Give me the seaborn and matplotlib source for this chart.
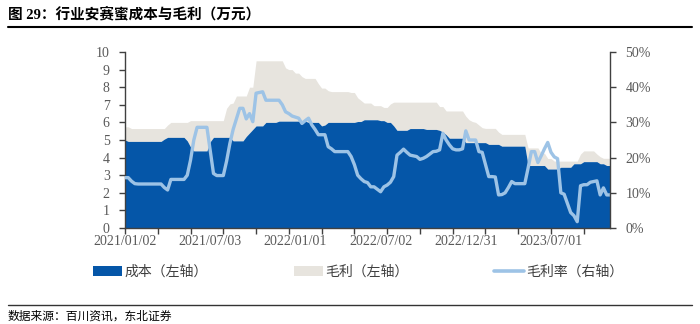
import numpy as np
import pandas as pd
import matplotlib
matplotlib.use("Agg")
import matplotlib.pyplot as plt
import seaborn as sns
from matplotlib.patches import Patch
from matplotlib.lines import Line2D

# ---- data (weekly, 2021/01/02 onward) ----
cost = [
    5.0, 4.92, 4.92, 4.92, 4.92, 4.92, 4.92, 4.92, 4.92, 4.92, 4.92, 4.92,
    5.05, 5.15, 5.15, 5.15, 5.15, 5.15, 5.15,
    4.95, 4.6, 4.38, 4.38, 4.38, 4.38, 4.38,
    4.9, 5.15, 5.15, 5.15, 5.15, 5.15, 5.15,
    4.95, 4.95, 4.95, 4.95, 5.2, 5.4, 5.6,
    5.8, 5.8, 5.8, 6.0, 6.0, 6.0, 6.0,
    6.07, 6.07, 6.07, 6.07, 6.07, 6.07, 6.07, 6.07, 6.07,
    6.0, 6.0, 6.0, 6.0, 5.8, 5.85,
    6.0, 6.0, 6.0, 6.0, 6.0, 6.0, 6.0, 6.0, 6.0,
    6.05, 6.05, 6.15, 6.15, 6.15, 6.15, 6.15, 6.1, 6.1, 6.0, 6.0, 5.8,
    5.55, 5.55, 5.55, 5.55, 5.65, 5.65, 5.65, 5.65, 5.65,
    5.6, 5.6, 5.6, 5.6, 5.55, 5.45, 5.3,
    5.1, 5.1, 5.1, 5.1, 5.1,
    4.85, 4.85, 4.85, 4.85, 4.85, 4.85, 4.85,
    4.75, 4.75, 4.75, 4.75,
    4.65, 4.65, 4.65, 4.65, 4.65, 4.65, 4.65, 4.65,
    3.55, 3.55, 3.55, 3.55, 3.55, 3.55,
    3.35, 3.35, 3.35, 3.35,
    3.45, 3.45, 3.45, 3.45,
    3.65, 3.65, 3.65,
    3.77, 3.77, 3.77, 3.77, 3.77,
    3.65, 3.65, 3.55, 3.55,
]

gross = [
    0.75, 0.83, 0.73, 0.73, 0.73, 0.73, 0.73, 0.73, 0.73, 0.73, 0.73, 0.73,
    0.6, 0.7, 0.85, 0.85, 0.85, 0.85, 0.85,
    1.05, 1.5, 1.72, 1.72, 1.72, 1.72, 1.72,
    1.2, 0.95, 0.95, 0.95, 0.95, 1.65, 1.9,
    2.15, 2.55, 2.55, 2.55, 2.3, 2.6, 2.4,
    3.7, 3.7, 3.7, 3.5, 3.5, 3.5, 3.5,
    3.43, 3.43, 3.03, 2.93, 2.93, 2.73, 2.73, 2.53, 2.43,
    2.5, 2.5, 2.5, 2.2, 2.15, 2.1,
    1.8, 1.75, 1.75, 1.75, 1.75, 1.75, 1.75, 1.7, 1.7,
    1.35, 1.2, 0.95, 0.95, 0.95, 0.8, 0.8, 0.85, 0.75, 0.85, 1.05, 1.35,
    1.6, 1.6, 1.6, 1.6, 1.5, 1.5, 1.5, 1.5, 1.5,
    1.55, 1.55, 1.55, 1.55, 1.35, 1.45, 1.35,
    1.55, 1.55, 1.55, 1.55, 1.55,
    1.5, 1.3, 1.2, 1.15, 1.0, 0.85, 0.81,
    0.91, 0.91, 0.91, 0.7,
    0.67, 0.67, 0.67, 0.67, 0.67, 0.67, 0.67, 0.67,
    1.0, 1.0, 1.0, 1.0, 0.7, 0.7,
    0.6, 0.6, 0.45, 0.45,
    0.35, 0.35, 0.35, 0.35,
    0.15, 0.15, 0.55,
    0.61, 0.61, 0.61, 0.61, 0.43,
    0.4, 0.31, 0.41, 0.41,
]

rate = [
    14.3, 14.3, 13.3, 12.6, 12.5, 12.5, 12.5, 12.5, 12.5, 12.5, 12.5, 12.5,
    11.5, 10.8, 13.8, 13.8, 13.8, 13.8, 13.8,
    15.0, 19.3, 25.0, 28.6, 28.6, 28.6, 28.6,
    22.0, 15.5, 14.9, 14.9, 14.9, 19.0, 24.0,
    28.0, 31.0, 34.0, 34.0, 31.0, 32.5, 30.2,
    38.3, 38.5, 38.7, 36.3, 36.3, 36.3, 36.3,
    36.3, 35.0, 33.0, 32.5, 31.8, 31.5, 31.2, 29.7, 30.5,
    31.2, 29.3, 28.0, 26.5, 26.5, 26.5,
    23.1, 22.5, 21.7, 21.7, 21.7, 21.7, 21.7, 20.3, 18.0,
    15.0, 14.0, 13.2, 12.9, 11.7, 11.7, 11.0, 10.3, 11.7, 12.2, 13.0, 14.6,
    20.7, 21.5, 22.4, 21.5, 20.7, 20.5, 20.3, 19.5, 19.8,
    20.3, 21.0, 21.7, 21.8, 22.2, 26.9, 25.0,
    23.6, 22.5, 22.2, 22.2, 22.5,
    27.6, 25.0, 25.0, 25.0, 21.7, 21.5, 18.0,
    14.6, 14.6, 14.5, 9.4,
    9.5, 10.0, 11.5, 13.2, 12.6, 12.6, 12.6, 12.6,
    17.0, 21.7, 21.7, 18.6, 20.5, 22.5,
    24.3, 21.5, 20.2, 19.7,
    10.0, 9.6, 7.0, 4.4,
    3.5, 1.8, 12.0,
    12.3, 12.3, 13.0, 13.2, 13.4,
    9.4, 11.4, 9.4, 9.4,
]

label_pos = [0, 26, 52, 78, 104, 130]
label_txt = ["2021/01/02", "2021/07/03", "2022/01/01", "2022/07/02", "2022/12/31", "2023/07/01"]
tick_pos = [0, 10, 20, 30, 40, 50, 60, 70, 80, 90, 100, 110, 120, 130, 140]
left_ticks = [0, 1, 2, 3, 4, 5, 6, 7, 8, 9, 10]
right_ticks = [0, 10, 20, 30, 40, 50]
right_labels = ["0%", "10%", "20%", "30%", "40%", "50%"]

BLUE = "#0556A8"
BEIGE = "#E7E4DE"
LINEC = "#9DC3E6"
AXC = "#404040"
TXT = "#595959"

sns.set_theme(style="white")
plt.rcParams["font.family"] = ["Liberation Serif", "Noto Sans CJK SC"]
CJK = ["Noto Sans CJK SC", "DejaVu Sans"]

fig = plt.figure(figsize=(7, 3.24), dpi=100)
ax = fig.add_axes([125 / 700, 96 / 324, 485 / 700, 176 / 324])

df = pd.DataFrame({"week": np.arange(len(cost)), "cost": cost, "gross": gross, "rate": rate})
df["total"] = df["cost"] + df["gross"]

ax.fill_between(df["week"], 0, df["cost"], color=BLUE, lw=0, zorder=2)
ax.fill_between(df["week"], df["cost"], df["total"], color=BEIGE, lw=0, zorder=1)
ax.set_xlim(0, len(cost) - 1)
ax.set_ylim(0, 10)

ax2 = ax.twinx()
sns.lineplot(data=df, x="week", y="rate", ax=ax2, color=LINEC, lw=2.4, legend=False)
ax2.set_ylim(0, 50)
ax2.set_xlim(0, len(cost) - 1)

for a in (ax, ax2):
    a.set_xlabel("")
    a.set_ylabel("")
    for s in a.spines.values():
        s.set_visible(False)
ax.spines["left"].set_visible(True)
ax.spines["bottom"].set_visible(True)
ax2.spines["right"].set_visible(True)
for s in (ax.spines["left"], ax.spines["bottom"], ax2.spines["right"]):
    s.set_color(AXC)
    s.set_linewidth(1.0)

ax.xaxis.remove_overlapping_locs = False
ax.set_yticks(left_ticks)
ax.set_yticklabels([str(v) for v in left_ticks])
ax.set_xticks(tick_pos)
ax.set_xticklabels([""] * len(tick_pos))
ax.set_xticks(label_pos, minor=True)
ax.set_xticklabels(label_txt, minor=True)
ax.tick_params(axis="x", which="major", direction="out", length=4, width=1, color=AXC, bottom=True)
ax.tick_params(axis="x", which="minor", length=0, pad=5, labelsize=10, labelcolor=TXT, bottom=True)
ax.tick_params(axis="y", direction="out", length=4, width=1, color=AXC, pad=7, labelsize=10, labelcolor=TXT, left=True)

ax2.set_yticks(right_ticks)
ax2.set_yticklabels(right_labels)
ax2.tick_params(axis="y", direction="out", length=4, width=1, color=AXC, pad=7, labelsize=10, labelcolor=TXT, right=True)
ax2.tick_params(axis="x", bottom=False, labelbottom=False)

# title and rules
fig.text(8 / 700, 1 - 14 / 324, "图 29：行业安赛蜜成本与毛利（万元）", fontsize=10.5, fontweight="bold",
         color="black", ha="left", va="center", family=["Liberation Serif", "Noto Sans CJK SC"])
fig.add_artist(Line2D([8 / 700, 692 / 700], [1 - 27 / 324, 1 - 27 / 324], color="black", lw=1.5))
fig.add_artist(Line2D([8 / 700, 692 / 700], [1 - 305 / 324, 1 - 305 / 324], color="#333333", lw=1.0))
fig.text(8 / 700, 1 - 316 / 324, "数据来源：百川资讯，东北证券", fontsize=8.5, color="black",
         ha="left", va="center", family=CJK)

handles = [Patch(facecolor=BLUE, edgecolor="none"),
           Patch(facecolor=BEIGE, edgecolor="none"),
           Line2D([0], [0], color=LINEC, lw=2.6)]
labels = ["成本（左轴）", "毛利（左轴）", "毛利率（右轴）"]
leg = fig.legend(handles, labels, loc="center", bbox_to_anchor=(358 / 700, 1 - 272 / 324), ncol=3,
                 frameon=False, handlelength=2.1, handleheight=0.8, handletextpad=0.15,
                 columnspacing=6.2, prop={"family": CJK, "size": 10})
for t in leg.get_texts():
    t.set_color("#404040")

fig.savefig("out.png", dpi=100)
